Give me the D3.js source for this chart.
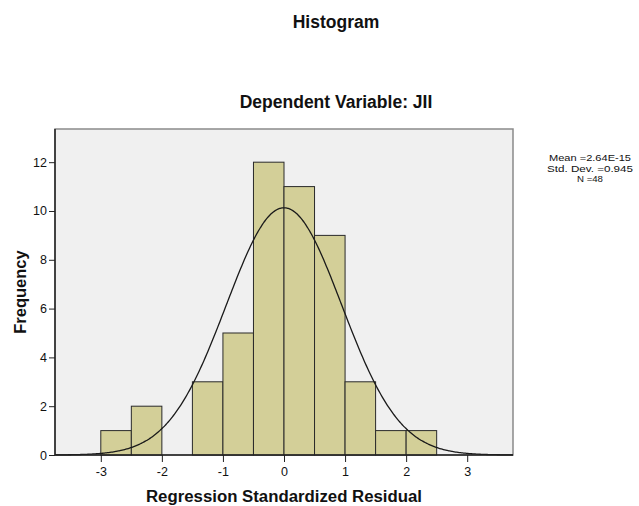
<!DOCTYPE html>
<html>
<head>
<meta charset="utf-8">
<script src="https://cdn.jsdelivr.net/npm/d3@7"></script>
<style>
  body { margin: 0; background: #fff; }
  text { font-family: "Liberation Sans", Arial, sans-serif; fill: #111; }
</style>
</head>
<body>
<div id="chart"></div>
<script>
const width = 639;
const height = 506;

// histogram bins (lower edge) and counts
const binStarts = [-3, -2.5, -2, -1.5, -1, -0.5, 0, 0.5, 1, 1.5, 2];
const counts = [1, 2, 0, 3, 5, 12, 11, 9, 3, 1, 1];
const binWidth = 0.5;
const xTicks = [-3, -2, -1, 0, 1, 2, 3];
const yTicks = [0, 2, 4, 6, 8, 10, 12];
const statsLines = ["Mean =2.64E-15", "Std. Dev. =0.945", "N =48"];
const statsWidths = [82, 86, 26];
const mean = 2.64e-15, sd = 0.945, n = 48;

const plot = { left: 55, right: 513, top: 129, bottom: 455 };

const x = d3.scaleLinear().domain([-3.75, 3.75]).range([plot.left, plot.right]);
const y = d3.scaleLinear().domain([0, 13.36]).range([plot.bottom, plot.top]);

const svg = d3.select("#chart").append("svg")
    .attr("width", width)
    .attr("height", height);

// plot background
svg.append("rect")
    .attr("x", plot.left).attr("y", plot.top)
    .attr("width", plot.right - plot.left).attr("height", plot.bottom - plot.top)
    .attr("fill", "#f0f0f0")
    .attr("stroke", "#8a8a8a")
    .attr("stroke-width", 1.5);

// bars
svg.append("g").selectAll("rect")
    .data(binStarts.map((s, i) => ({ s, c: counts[i] })).filter(d => d.c > 0))
    .join("rect")
    .attr("x", d => x(d.s))
    .attr("y", d => y(d.c))
    .attr("width", d => x(d.s + binWidth) - x(d.s))
    .attr("height", d => y(0) - y(d.c))
    .attr("fill", "#d3cf98")
    .attr("stroke", "#2a2a2a")
    .attr("stroke-width", 1);

// normal curve
const pts = d3.range(-3.75, 3.7501, 0.02);
const line = d3.line()
    .x(d => x(d))
    .y(d => y(n * binWidth * Math.exp(-0.5 * ((d - mean) / sd) ** 2) / (sd * Math.sqrt(2 * Math.PI))))
    .curve(d3.curveBasis);
svg.append("path")
    .datum(pts)
    .attr("d", line)
    .attr("fill", "none")
    .attr("stroke", "#1a1a1a")
    .attr("stroke-width", 1.3);

// axes (plain hyphen minus like the reference)
const xAxis = svg.append("g")
    .attr("transform", `translate(0,${plot.bottom})`)
    .call(d3.axisBottom(x).tickValues(xTicks).tickSize(7).tickPadding(5).tickFormat(d => String(d)));
const yAxis = svg.append("g")
    .attr("transform", `translate(${plot.left},0)`)
    .call(d3.axisLeft(y).tickValues(yTicks).tickSize(6).tickPadding(2).tickFormat(d => String(d)));

[xAxis, yAxis].forEach(a => {
    a.attr("font-size", 12.5).attr("font-family", "Liberation Sans, Arial, sans-serif");
    a.select(".domain").attr("stroke", "#222").attr("stroke-width", 1.5);
    a.selectAll(".tick line").attr("stroke", "#222");
    a.selectAll(".tick text").attr("fill", "#111");
});
xAxis.select(".domain").attr("d", `M${plot.left},0H${plot.right}`);
yAxis.select(".domain").attr("d", `M0,${plot.bottom}V${plot.top}`);

// titles
svg.append("text")
    .attr("x", 336).attr("y", 28)
    .attr("text-anchor", "middle")
    .attr("font-size", 17.5).attr("font-weight", "bold")
    .text("Histogram");
svg.append("text")
    .attr("x", 336).attr("y", 108)
    .attr("text-anchor", "middle")
    .attr("font-size", 17.5).attr("font-weight", "bold")
    .text("Dependent Variable: JII");

// axis titles
svg.append("text")
    .attr("x", 284).attr("y", 502)
    .attr("text-anchor", "middle")
    .attr("font-size", 16.8).attr("font-weight", "bold")
    .text("Regression Standardized Residual");
svg.append("text")
    .attr("transform", "translate(26,292) rotate(-90)")
    .attr("text-anchor", "middle")
    .attr("font-size", 16.5).attr("font-weight", "bold")
    .text("Frequency");

// stats box
svg.append("g").selectAll("text")
    .data(statsLines)
    .join("text")
    .attr("x", 590)
    .attr("y", (d, i) => 161 + i * 10.5)
    .attr("text-anchor", "middle")
    .attr("font-size", 9)
    .attr("textLength", (d, i) => statsWidths[i])
    .attr("lengthAdjust", "spacingAndGlyphs")
    .text(d => d);
</script>
</body>
</html>
